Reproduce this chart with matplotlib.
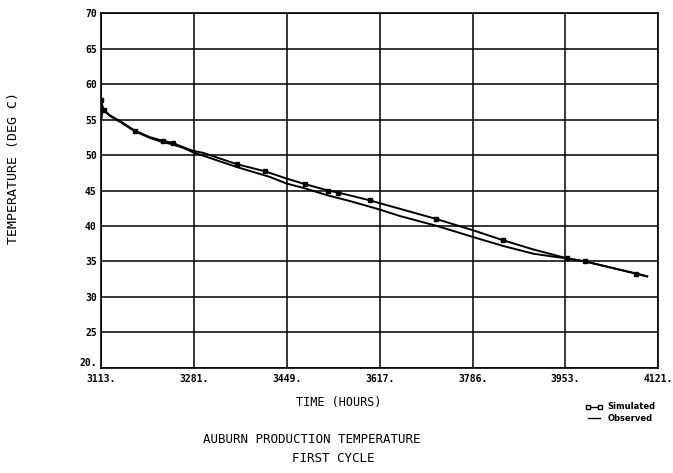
import matplotlib
matplotlib.use("Agg")
import matplotlib.pyplot as plt
from matplotlib.lines import Line2D

# Simulated (upper line, square markers)
sim_hours = [3113, 3118, 3129, 3147, 3175, 3202, 3225, 3243, 3265, 3279, 3298, 3359,
             3410, 3448, 3482, 3524, 3542, 3564, 3600, 3618, 3719, 3786, 3840, 3895,
             3956, 3989, 4081, 4101]
sim_temp = [57.7, 56.3, 55.6, 54.8, 53.4, 52.5, 52.0, 51.7, 51.0, 50.6, 50.3, 48.7,
            47.7, 46.7, 45.9, 45.0, 44.7, 44.3, 43.6, 43.2, 41.0, 39.4, 38.0, 36.7,
            35.45, 35.0, 33.3, 32.9]
sim_marked = [3113, 3118, 3175, 3225, 3243, 3359, 3410, 3482, 3524, 3542, 3600,
              3719, 3840, 3956, 3989, 4081]

# Observed (lower line)
obs_hours = [3113, 3116, 3129, 3147, 3175, 3202, 3225, 3243, 3265, 3279, 3298, 3359,
             3419, 3448, 3482, 3524, 3564, 3618, 3654, 3721, 3786, 3840, 3895, 3930,
             3956, 3989, 4081, 4101]
obs_temp = [54.5, 56.5, 55.5, 54.7, 53.3, 52.4, 51.8, 51.5, 50.9, 50.4, 49.9, 48.3,
            46.9, 46.0, 45.3, 44.3, 43.5, 42.3, 41.4, 40.0, 38.45, 37.2, 36.1, 35.7,
            35.45, 35.0, 33.3, 32.9]

xticks = [3113, 3281, 3449, 3617, 3786, 3953, 4121]
xlabels = ["3113.", "3281.", "3449.", "3617.", "3786.", "3953.", "4121."]
yticks = [20, 25, 30, 35, 40, 45, 50, 55, 60, 65, 70]
ylabels = ["20.", "25", "30", "35", "40", "45", "50", "55", "60", "65", "70"]

MONO = "DejaVu Sans Mono"

fig = plt.figure(figsize=(6.73, 4.73), dpi=100)
ax = fig.add_axes([0.150, 0.222, 0.828, 0.7505])

ax.plot(obs_hours, obs_temp, color="black", lw=1.4, zorder=3)
ax.plot(sim_hours, sim_temp, color="black", lw=1.4, zorder=3)
mk_y = [sim_temp[sim_hours.index(h)] for h in sim_marked]
ax.plot(sim_marked, mk_y, ls="none", marker="s", ms=3.5, mfc="black", mec="black", zorder=4)

ax.set_xlim(3113, 4121)
ax.set_ylim(20, 70)
ax.set_xticks(xticks)
ax.set_xticklabels(xlabels, family=MONO, fontweight="bold", fontsize=7)
ax.set_yticks(yticks)
ax.set_yticklabels(ylabels, family=MONO, fontweight="bold", fontsize=7)
ax.get_yticklabels()[0].set_verticalalignment("bottom")
ax.tick_params(length=0, pad=3)
ax.tick_params(axis="x", pad=4)
ax.grid(True, color="black", lw=1.1)
for s in ax.spines.values():
    s.set_color("black")
    s.set_linewidth(1.2)

fig.text(0.020, 0.645, "TEMPERATURE (DEG C)", rotation=90, ha="center", va="center",
         family=MONO, fontsize=9.5)
fig.text(0.503, 0.148, "TIME (HOURS)", ha="center", va="center", family=MONO, fontsize=8.5)
fig.text(0.463, 0.071, "AUBURN PRODUCTION TEMPERATURE", ha="center", va="center",
         family=MONO, fontsize=9)
fig.text(0.495, 0.031, "FIRST CYCLE", ha="center", va="center", family=MONO, fontsize=9)

handles = [Line2D([], [], color="black", lw=1.0, marker="s", ms=3.5, mfc="white", mec="black"),
           Line2D([], [], color="black", lw=1.0)]
leg = fig.legend(handles, ["Simulated", "Observed"], loc="upper right",
                 bbox_to_anchor=(0.985, 0.165), frameon=False, numpoints=2,
                 handlelength=2.0, handletextpad=0.6, labelspacing=0.3,
                 prop={"size": 6, "weight": "bold"})

fig.savefig("out.png", dpi=100)
